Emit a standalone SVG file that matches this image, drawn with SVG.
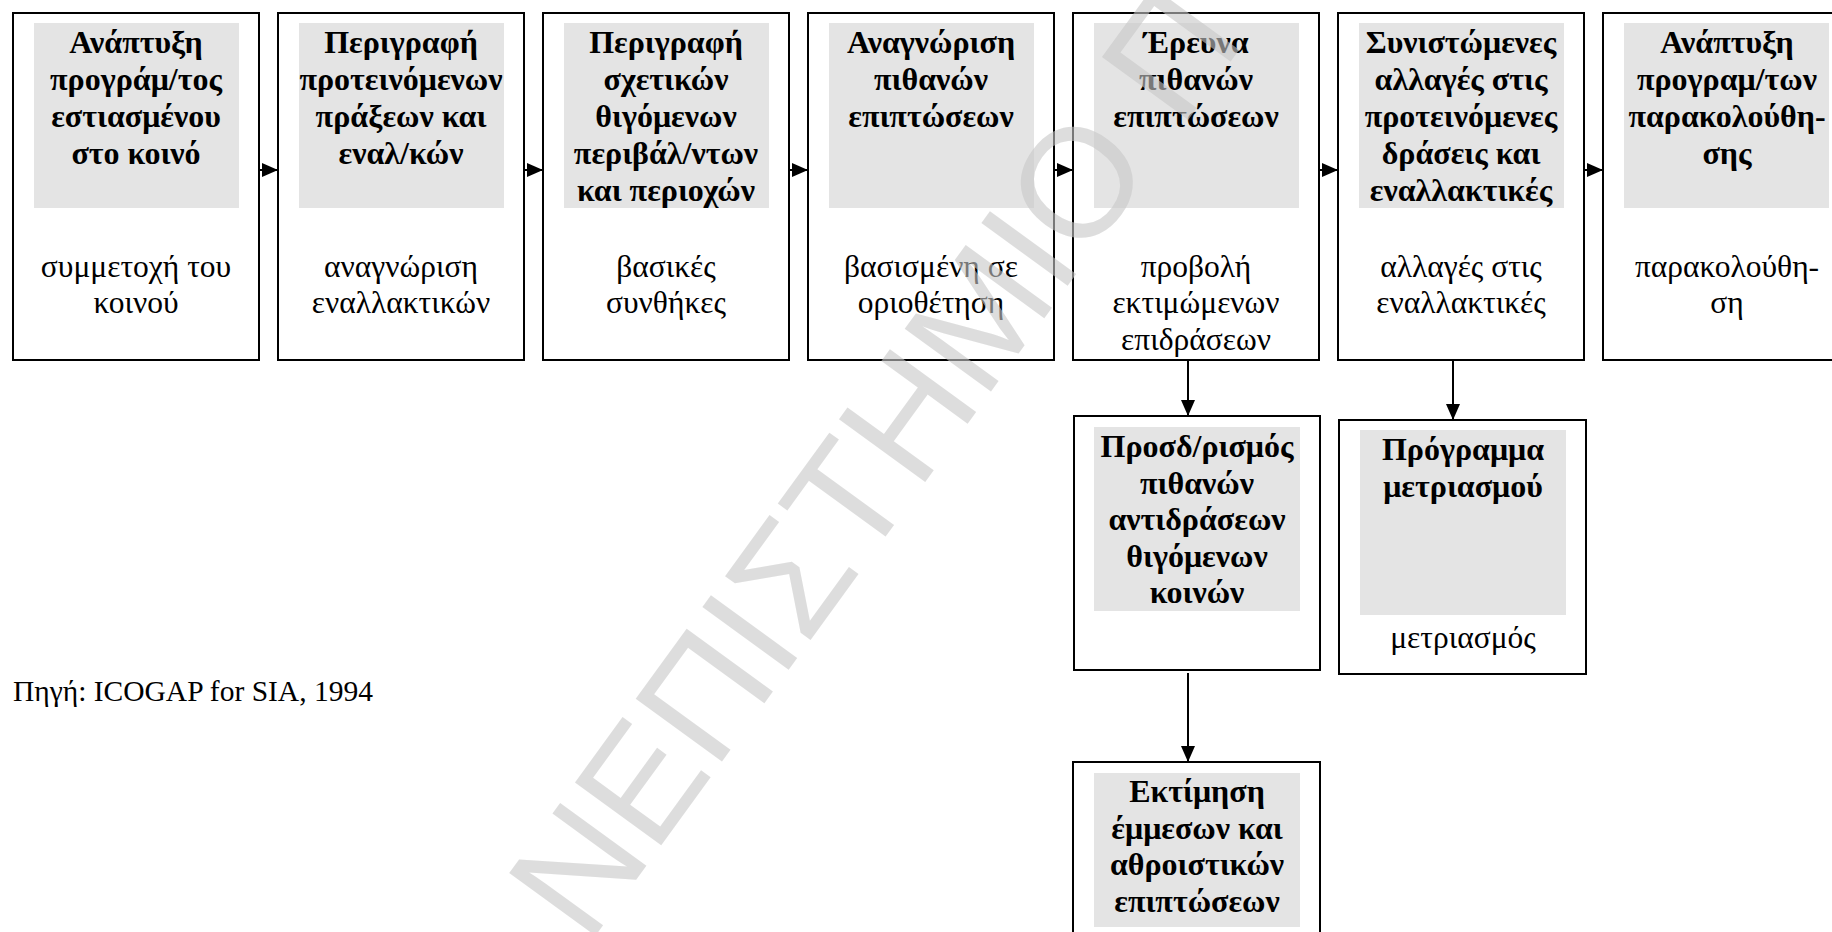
<svg xmlns="http://www.w3.org/2000/svg" width="1832" height="932" viewBox="0 0 1832 932">
<style>
.box{fill:#fff;stroke:#000;stroke-width:2}
.shade{fill:#e4e4e4}
.t{font-family:"Liberation Serif","Times New Roman",serif;font-size:31.5px;text-anchor:middle;fill:#000}
.b{font-weight:bold;font-size:32px}
.src{font-family:"Liberation Serif","Times New Roman",serif;font-size:29.5px;fill:#000}
.conn{stroke:#000;stroke-width:2;fill:none}
.wm{font-family:"Liberation Sans",Arial,sans-serif;font-size:155px;fill:#c8c8c8;opacity:0.6}
</style>
<defs>
<marker id="ah" markerWidth="16" markerHeight="14" refX="16" refY="7" orient="auto" markerUnits="userSpaceOnUse"><path d="M0,0 L16,7 L0,14 z" fill="#000"/></marker>
<clipPath id="c5"><rect x="1074" y="14" width="244" height="343"/></clipPath>
</defs>
<rect width="1832" height="932" fill="#fff"/>
<g id="n1">
<rect class="box" x="13" y="13" width="246" height="347"/>
<rect class="shade" x="34" y="23" width="205" height="185"/>
<text class="t b"><tspan x="136" y="53">Ανάπτυξη</tspan><tspan x="136" y="90">προγράμ/τος</tspan><tspan x="136" y="127">εστιασμένου</tspan><tspan x="136" y="164">στο κοινό</tspan></text>
<text class="t"><tspan x="136" y="277">συμμετοχή του</tspan><tspan x="136" y="313">κοινού</tspan></text>
</g>
<g id="n2">
<rect class="box" x="278" y="13" width="246" height="347"/>
<rect class="shade" x="299" y="23" width="205" height="185"/>
<text class="t b"><tspan x="401" y="53">Περιγραφή</tspan><tspan x="401" y="90">προτεινόμενων</tspan><tspan x="401" y="127">πράξεων και</tspan><tspan x="401" y="164">εναλ/κών</tspan></text>
<text class="t"><tspan x="401" y="277">αναγνώριση</tspan><tspan x="401" y="313">εναλλακτικών</tspan></text>
</g>
<g id="n3">
<rect class="box" x="543" y="13" width="246" height="347"/>
<rect class="shade" x="564" y="23" width="205" height="185"/>
<text class="t b"><tspan x="666" y="53">Περιγραφή</tspan><tspan x="666" y="90">σχετικών</tspan><tspan x="666" y="127">θιγόμενων</tspan><tspan x="666" y="164">περιβάλ/ντων</tspan><tspan x="666" y="201">και περιοχών</tspan></text>
<text class="t"><tspan x="666" y="277">βασικές</tspan><tspan x="666" y="313">συνθήκες</tspan></text>
</g>
<g id="n4">
<rect class="box" x="808" y="13" width="246" height="347"/>
<rect class="shade" x="829" y="23" width="205" height="185"/>
<text class="t b"><tspan x="931" y="53">Αναγνώριση</tspan><tspan x="931" y="90">πιθανών</tspan><tspan x="931" y="127">επιπτώσεων</tspan></text>
<text class="t"><tspan x="931" y="277">βασισμένη σε</tspan><tspan x="931" y="313">οριοθέτηση</tspan></text>
</g>
<g id="n5">
<rect class="box" x="1073" y="13" width="246" height="347"/>
<rect class="shade" x="1094" y="23" width="205" height="185"/>
<text class="t b"><tspan x="1196" y="53">Έρευνα</tspan><tspan x="1196" y="90">πιθανών</tspan><tspan x="1196" y="127">επιπτώσεων</tspan></text>
<text class="t" clip-path="url(#c5)"><tspan x="1196" y="277">προβολή</tspan><tspan x="1196" y="313">εκτιμώμενων</tspan><tspan x="1196" y="350">επιδράσεων</tspan></text>
</g>
<g id="n6">
<rect class="box" x="1338" y="13" width="246" height="347"/>
<rect class="shade" x="1359" y="23" width="205" height="185"/>
<text class="t b"><tspan x="1461" y="53">Συνιστώμενες</tspan><tspan x="1461" y="90">αλλαγές στις</tspan><tspan x="1461" y="127">προτεινόμενες</tspan><tspan x="1461" y="164">δράσεις και</tspan><tspan x="1461" y="201">εναλλακτικές</tspan></text>
<text class="t"><tspan x="1461" y="277">αλλαγές στις</tspan><tspan x="1461" y="313">εναλλακτικές</tspan></text>
</g>
<g id="n7">
<rect class="box" x="1603" y="13" width="246" height="347"/>
<rect class="shade" x="1624" y="23" width="205" height="185"/>
<text class="t b"><tspan x="1727" y="53">Ανάπτυξη</tspan><tspan x="1727" y="90">προγραμ/των</tspan><tspan x="1727" y="127">παρακολούθη-</tspan><tspan x="1727" y="164">σης</tspan></text>
<text class="t"><tspan x="1727" y="277">παρακολούθη-</tspan><tspan x="1727" y="313">ση</tspan></text>
</g>
<g id="n8">
<rect class="box" x="1074" y="416" width="246" height="254"/>
<rect class="shade" x="1094" y="427" width="206" height="184"/>
<text class="t b"><tspan x="1197" y="457">Προσδ/ρισμός</tspan><tspan x="1197" y="493.5">πιθανών</tspan><tspan x="1197" y="530">αντιδράσεων</tspan><tspan x="1197" y="566.5">θιγόμενων</tspan><tspan x="1197" y="603">κοινών</tspan></text>
</g>
<g id="n9">
<rect class="box" x="1339" y="420" width="247" height="254"/>
<rect class="shade" x="1360" y="430" width="206" height="185"/>
<text class="t b"><tspan x="1463" y="460">Πρόγραμμα</tspan><tspan x="1463" y="497">μετριασμού</tspan></text>
<text class="t"><tspan x="1463" y="648">μετριασμός</tspan></text>
</g>
<g id="n10">
<rect class="box" x="1073" y="762" width="247" height="200"/>
<rect class="shade" x="1094" y="773" width="206" height="154"/>
<text class="t b"><tspan x="1197" y="802">Εκτίμηση</tspan><tspan x="1197" y="838.5">έμμεσων και</tspan><tspan x="1197" y="875">αθροιστικών</tspan><tspan x="1197" y="911.5">επιπτώσεων</tspan></text>
</g>
<g id="connectors">
<path class="conn" marker-end="url(#ah)" d="M259,170 H278"/>
<path class="conn" marker-end="url(#ah)" d="M524,170 H543"/>
<path class="conn" marker-end="url(#ah)" d="M789,170 H808"/>
<path class="conn" marker-end="url(#ah)" d="M1054,170 H1073"/>
<path class="conn" marker-end="url(#ah)" d="M1319,170 H1338"/>
<path class="conn" marker-end="url(#ah)" d="M1584,170 H1603"/>
<path class="conn" marker-end="url(#ah)" d="M1188,360 V416"/>
<path class="conn" marker-end="url(#ah)" d="M1453,360 V420"/>
<path class="conn" marker-end="url(#ah)" d="M1188,673 V762"/>
</g>
<g id="source">
<text class="src" x="13" y="701">Πηγή: ICOGAP for SIA, 1994</text>
</g>
<g id="watermark">
<text class="wm" x="588" y="946" transform="rotate(-54 588 946)">ΝΕΠΙΣΤΗΜΙΟ Π</text>
</g>
</svg>
